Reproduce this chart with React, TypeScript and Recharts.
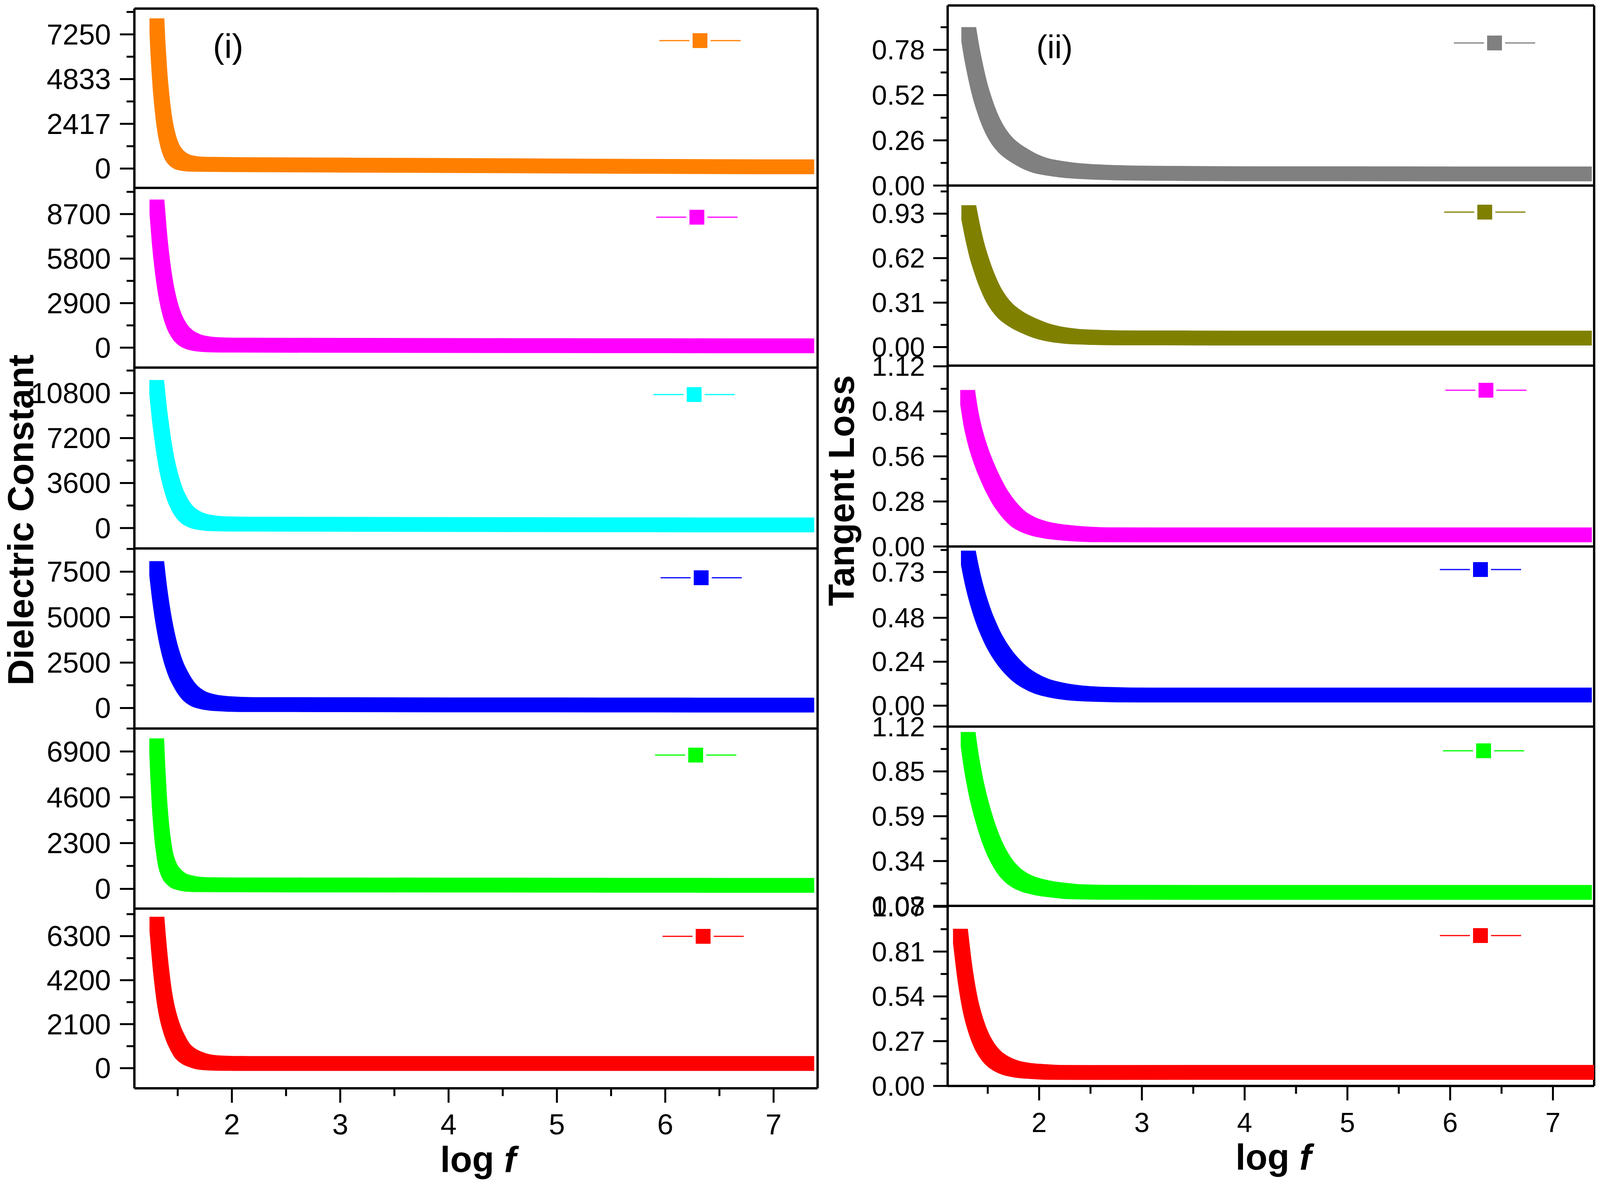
import { LineChart, Line, XAxis, YAxis, ReferenceLine, Legend } from "recharts";

// end of every curve, where the band is flat
const tailLogF = [3, 4, 5, 6, 7, 7.31];

// (i) dielectric constant
const orangeLogF = [1.308, 1.316, 1.327, 1.337, 1.348, 1.362, 1.379, 1.4, 1.424, 1.449, 1.473, 1.501, 1.536, 1.595, 1.693, 2.086, ...tailLogF];
const orangeVals = [7734, 6689, 5627, 4742, 4004, 3203, 2424, 1770, 1243, 885, 674, 506, 379, 287, 232, 211, 190, 165, 140, 115, 95, 95];
const orangeTicks = [0, 1208.5, 2417, 3625, 4833, 6041.5, 7250, 8458];
const orangeLabels = ["0", "", "2417", "", "4833", "", "7250", ""];

const magentaLogF = [1.308, 1.33, 1.352, 1.375, 1.397, 1.43, 1.468, 1.519, 1.575, 1.641, 1.73, 1.864, 2.086, ...tailLogF];
const magentaVals = [9188, 7249, 5724, 4483, 3554, 2517, 1713, 1045, 638, 392, 248, 180, 163, 150, 140, 130, 125, 120, 120];
const magentaTicks = [0, 1450, 2900, 4350, 5800, 7250, 8700, 10150];
const magentaLabels = ["0", "", "2900", "", "5800", "", "8700", ""];

const cyanLogF = [1.306, 1.335, 1.356, 1.378, 1.403, 1.428, 1.455, 1.486, 1.517, 1.558, 1.61, 1.682, 1.786, 1.91, 2.096, ...tailLogF];
const cyanVals = [11282, 8851, 7460, 6161, 4955, 4027, 3192, 2449, 1893, 1336, 909, 594, 408, 334, 315, 300, 280, 265, 255, 250, 250];
const cyanTicks = [0, 1800, 3600, 5400, 7200, 9000, 10800, 12600];
const cyanLabels = ["0", "", "3600", "", "7200", "", "10800", ""];

const blueLogF = [1.306, 1.335, 1.356, 1.378, 1.403, 1.428, 1.455, 1.486, 1.521, 1.558, 1.61, 1.682, 1.786, 1.91, 2.138, ...tailLogF];
const blueVals = [7691, 6200, 5320, 4533, 3780, 3160, 2606, 2095, 1660, 1270, 860, 535, 335, 242, 191, 185, 175, 170, 165, 160, 160];
const blueTicks = [0, 1250, 2500, 3750, 5000, 6250, 7500, 8750];
const blueLabels = ["0", "", "2500", "", "5000", "", "7500", ""];

const greenLogF = [1.306, 1.316, 1.329, 1.341, 1.354, 1.369, 1.388, 1.411, 1.435, 1.466, 1.505, 1.559, 1.637, 1.731, 1.886, ...tailLogF];
const greenVals = [7202, 5903, 4553, 3610, 2792, 2127, 1480, 1060, 790, 590, 420, 313, 235, 209, 202, 195, 190, 185, 180, 175, 175];
const greenTicks = [0, 1150, 2300, 3450, 4600, 5750, 6900, 8050];
const greenLabels = ["0", "", "2300", "", "4600", "", "6900", ""];

const redLogF = [1.308, 1.321, 1.335, 1.352, 1.374, 1.397, 1.426, 1.459, 1.497, 1.541, 1.597, 1.664, 1.753, 1.864, 2.042, ...tailLogF];
const redVals = [6890, 6050, 5240, 4400, 3493, 2798, 2189, 1668, 1234, 843, 582, 417, 287, 243, 226, 225, 225, 225, 225, 225, 225];
const redTicks = [0, 1050, 2100, 3150, 4200, 5250, 6300, 7350];
const redLabels = ["0", "", "2100", "", "4200", "", "6300", ""];

// (ii) tangent loss
const lossTail = [4, 5, 6, 7, 7.31];

const grayLogF = [1.315, 1.346, 1.369, 1.397, 1.428, 1.463, 1.498, 1.545, 1.604, 1.674, 1.744, 1.815, 1.909, 2.014, 2.143, 2.307, 2.542, 2.893, 3.315, ...lossTail];
const grayVals = [0.87, 0.759, 0.691, 0.614, 0.54, 0.472, 0.412, 0.346, 0.284, 0.232, 0.197, 0.17, 0.139, 0.115, 0.1, 0.087, 0.078, 0.072, 0.07, 0.068, 0.068, 0.067, 0.067, 0.067];
const grayTicks = [0, 0.13, 0.26, 0.39, 0.52, 0.65, 0.78, 0.91];
const grayLabels = ["0.00", "", "0.26", "", "0.52", "", "0.78", ""];

const oliveVals = [0.94, 0.826, 0.751, 0.669, 0.595, 0.52, 0.455, 0.38, 0.31, 0.25, 0.21, 0.178, 0.146, 0.116, 0.092, 0.076, 0.068, 0.064, 0.064, 0.063, 0.063, 0.063, 0.063, 0.063];
const oliveTicks = [0, 0.155, 0.31, 0.465, 0.62, 0.775, 0.93, 1.085];
const oliveLabels = ["0.00", "", "0.31", "", "0.62", "", "0.93", ""];

const pinkLogF = [1.304, 1.337, 1.368, 1.398, 1.431, 1.464, 1.496, 1.533, 1.573, 1.616, 1.671, 1.725, 1.802, 1.889, 1.998, 2.14, 2.314, 2.597, 3.034, ...lossTail];
const pinkVals = [0.929, 0.795, 0.705, 0.635, 0.57, 0.513, 0.464, 0.411, 0.36, 0.31, 0.259, 0.216, 0.169, 0.137, 0.112, 0.094, 0.082, 0.073, 0.072, 0.072, 0.072, 0.072, 0.072, 0.072];
const pinkTicks = [0, 0.14, 0.28, 0.42, 0.56, 0.7, 0.84, 0.98, 1.12];
const pinkLabels = ["0.00", "", "0.28", "", "0.56", "", "0.84", "", "1.12"];

const navyLogF = [1.311, 1.344, 1.372, 1.398, 1.431, 1.47, 1.507, 1.551, 1.605, 1.671, 1.736, 1.812, 1.911, 2.02, 2.161, 2.314, 2.597, 3.034, ...lossTail];
const navyVals = [0.808, 0.715, 0.648, 0.594, 0.533, 0.47, 0.42, 0.366, 0.312, 0.258, 0.215, 0.174, 0.136, 0.107, 0.086, 0.072, 0.062, 0.058, 0.058, 0.058, 0.058, 0.058, 0.058];
const navyTicks = [0, 0.12, 0.24, 0.36, 0.48, 0.605, 0.73, 0.85];
const navyLabels = ["0.00", "", "0.24", "", "0.48", "", "0.73", ""];

const limeLogF = [1.309, 1.343, 1.365, 1.389, 1.414, 1.439, 1.472, 1.513, 1.545, 1.586, 1.627, 1.677, 1.734, 1.808, 1.89, 1.989, 2.071, 2.202, 2.35, 2.661, ...lossTail];
const limeVals = [1.048, 0.905, 0.832, 0.76, 0.695, 0.638, 0.57, 0.495, 0.445, 0.39, 0.345, 0.3, 0.263, 0.23, 0.207, 0.19, 0.18, 0.17, 0.162, 0.159, 0.158, 0.158, 0.158, 0.158, 0.158];
const limeTicks = [0.08, 0.21, 0.34, 0.47, 0.6, 0.73, 0.86, 0.99, 1.12];
const limeLabels = ["0.08", "", "0.34", "", "0.59", "", "0.85", "", "1.12"];

const scarletLogF = [1.234, 1.262, 1.286, 1.309, 1.333, 1.356, 1.391, 1.438, 1.485, 1.555, 1.637, 1.731, 1.836, 1.977, 2.141, 2.445, 4, 5, 6, 7, 7.34];
const scarletVals = [0.905, 0.755, 0.645, 0.557, 0.48, 0.422, 0.35, 0.275, 0.222, 0.168, 0.132, 0.108, 0.095, 0.087, 0.082, 0.081, 0.082, 0.082, 0.082, 0.082, 0.082];
const scarletTicks = [0, 0.135, 0.27, 0.405, 0.54, 0.675, 0.81, 0.945, 1.08];
const scarletLabels = ["0.00", "", "0.27", "", "0.54", "", "0.81", "", "1.07"];

const xTicks = [1.5, 2, 2.5, 3, 3.5, 4, 4.5, 5, 5.5, 6, 6.5, 7];

const FONT = '"Liberation Sans", Arial, sans-serif';
const SQUARE = 38;
const PAD_TOP = 60;
const PAD_LEFT = 300;
const PAD_RIGHT = 20;
const PAD_BOTTOM = 60;
const BOTTOM_AXIS = 180;
const FRAME = 6;
// the photograph stops at 4096px across, so horizontal positions are fitted to that
const SX = 4096 / 4233;
const sx = (v: number) => Math.round(v * SX);

const zip = (xs: number[], ys: number[]) => xs.map((x, i) => ({ x, y: ys[i] }));

const leftSide = { axisX: sx(355), rightX: sx(2163), xDomain: [1.1, 7.406], fontSize: 74, labelGap: 60, minorLen: 20 };
const rightSide = { axisX: sx(2507), rightX: sx(4218), xDomain: [1.11, 7.401], fontSize: 70, labelGap: 58, minorLen: 18 };

const panels = [
  { side: leftSide, top: 22, bottom: 481, domain: [-1043, 8640], color: "#FF8000", xs: orangeLogF, ys: orangeVals, ticks: orangeTicks, labels: orangeLabels, legend: [1852, 104] },
  { side: leftSide, top: 481, bottom: 941, domain: [-1299, 10408], color: "#FF00FF", xs: magentaLogF, ys: magentaVals, ticks: magentaTicks, labels: magentaLabels, legend: [1844, 556] },
  { side: leftSide, top: 941, bottom: 1404, domain: [-1633, 12838], color: "#00FFFF", xs: cyanLogF, ys: cyanVals, ticks: cyanTicks, labels: cyanLabels, legend: [1836, 1010] },
  { side: leftSide, top: 1404, bottom: 1865, domain: [-1127, 8776], color: "#0000FF", xs: blueLogF, ys: blueVals, ticks: blueTicks, labels: blueLabels, legend: [1855, 1479] },
  { side: leftSide, top: 1865, bottom: 2326, domain: [-992, 8050], color: "#00FF00", xs: greenLogF, ys: greenVals, ticks: greenTicks, labels: greenLabels, legend: [1841, 1933] },
  { side: leftSide, top: 2326, bottom: 2786, domain: [-960, 7614], color: "#FF0000", xs: redLogF, ys: redVals, ticks: redTicks, labels: redLabels, legend: [1860, 2397], last: true },
  { side: rightSide, top: 14, bottom: 475, domain: [0, 1.035], color: "#808080", xs: grayLogF, ys: grayVals, ticks: grayTicks, labels: grayLabels, legend: [3954, 110] },
  { side: rightSide, top: 475, bottom: 936, domain: [-0.129, 1.126], color: "#808000", xs: grayLogF, ys: oliveVals, ticks: oliveTicks, labels: oliveLabels, legend: [3928, 543] },
  { side: rightSide, top: 936, bottom: 1399, domain: [0, 1.124], color: "#FF00FF", xs: pinkLogF, ys: pinkVals, ticks: pinkTicks, labels: pinkLabels, legend: [3931, 999] },
  { side: rightSide, top: 1399, bottom: 1860, domain: [-0.114, 0.869], color: "#0000FF", xs: navyLogF, ys: navyVals, ticks: navyTicks, labels: navyLabels, legend: [3917, 1458] },
  { side: rightSide, top: 1860, bottom: 2319, domain: [0.08, 1.12], color: "#00FF00", xs: limeLogF, ys: limeVals, ticks: limeTicks, labels: limeLabels, legend: [3925, 1922] },
  { side: rightSide, top: 2319, bottom: 2780, domain: [0, 1.0855], color: "#FF0000", xs: scarletLogF, ys: scarletVals, ticks: scarletTicks, labels: scarletLabels, legend: [3917, 2395], last: true },
];

function Panel({ p }: { p: (typeof panels)[number] }) {
  const { side, color } = p;
  const width = PAD_LEFT + (side.rightX - side.axisX) + PAD_RIGHT;
  const xAxisH = p.last ? BOTTOM_AXIS : PAD_BOTTOM;
  const height = PAD_TOP + (p.bottom - p.top) + xAxisH;
  const chartLeft = side.axisX - PAD_LEFT;
  const chartTop = p.top - PAD_TOP;

  const yTick = ({ x, y, payload, index }: any) => {
    const label = p.labels[p.ticks.indexOf(payload.value)] ?? p.labels[index];
    const major = label !== "";
    return (
      <g>
        <line x1={x} x2={x - (major ? 37 : side.minorLen)} y1={y} y2={y} stroke="#000" strokeWidth={5} />
        {major && (
          <text x={x - side.labelGap} y={y + side.fontSize * 0.35} textAnchor="end" fontSize={side.fontSize} fontFamily={FONT} fill="#000">
            {label}
          </text>
        )}
      </g>
    );
  };

  const xTick = ({ x, y, payload }: any) => {
    const major = Number.isInteger(payload.value);
    return (
      <g>
        <line x1={x} x2={x} y1={y} y2={y + (major ? 37 : 20)} stroke="#000" strokeWidth={5} />
        {major && (
          <text x={x} y={y + 118} textAnchor="middle" fontSize={side.fontSize} fontFamily={FONT} fill="#000">
            {payload.value}
          </text>
        )}
      </g>
    );
  };

  const legendKey = () => (
    <svg width={220} height={SQUARE} style={{ display: "block", overflow: "visible" }}>
      <line x1={6} x2={83} y1={19} y2={19} stroke={color} strokeWidth={3} />
      <rect x={91} y={0} width={SQUARE} height={SQUARE} fill={color} />
      <line x1={137} x2={214} y1={19} y2={19} stroke={color} strokeWidth={3} />
    </svg>
  );

  return (
    <div style={{ position: "absolute", left: chartLeft, top: chartTop }}>
      <LineChart
        width={width}
        height={height}
        data={zip(p.xs, p.ys)}
        margin={{ top: PAD_TOP, right: PAD_RIGHT, bottom: 0, left: 0 }}
        style={{ overflow: "visible" }}
      >
        <XAxis
          dataKey="x"
          type="number"
          domain={side.xDomain}
          ticks={p.last ? xTicks : []}
          interval={0}
          height={xAxisH}
          tickSize={0}
          tickMargin={0}
          tick={p.last ? xTick : false}
          axisLine={{ stroke: "#000", strokeWidth: FRAME }}
          allowDataOverflow
        />
        <YAxis
          type="number"
          domain={p.domain}
          ticks={p.ticks}
          interval={0}
          width={PAD_LEFT}
          tickSize={0}
          tickMargin={0}
          tick={yTick}
          axisLine={{ stroke: "#000", strokeWidth: FRAME }}
          allowDataOverflow
        />
        <ReferenceLine y={p.domain[1]} stroke="#000" strokeWidth={FRAME} ifOverflow="visible" />
        <ReferenceLine x={side.xDomain[1]} stroke="#000" strokeWidth={FRAME} ifOverflow="visible" />
        <Legend
          content={legendKey}
          layout="horizontal"
          verticalAlign="middle"
          wrapperStyle={{ position: "absolute", left: sx(p.legend[0]) - chartLeft - 110, top: p.legend[1] - chartTop - 19, width: 220, height: SQUARE, bottom: "auto" }}
        />
        <Line
          dataKey="y"
          type="monotone"
          stroke={color}
          strokeWidth={2}
          filter="url(#squareBrush)"
          isAnimationActive={false}
          dot={false}
          activeDot={false}
        />
      </LineChart>
    </div>
  );
}

export default function App() {
  return (
    <div style={{ position: "absolute", left: 0, top: 0, width: 4096, height: 3031, background: "#fff", overflow: "hidden" }}>
      {/* the original band is overlapping square symbols, so the thin line is dilated with a square kernel */}
      <svg width={0} height={0} style={{ position: "absolute" }}>
        <defs>
          <filter id="squareBrush" filterUnits="userSpaceOnUse" x={0} y={0} width={2400} height={800} colorInterpolationFilters="sRGB">
            <feMorphology operator="dilate" radius={18} />
          </filter>
        </defs>
      </svg>
      {panels.map((p, i) => (
        <Panel key={i} p={p} />
      ))}
      <svg width={4096} height={3031} style={{ position: "absolute", left: 0, top: 0, pointerEvents: "none" }} fontFamily={FONT} fill="#000">
        <text x={sx(563)} y={148} fontSize={88}>(i)</text>
        <text x={sx(2742)} y={149} fontSize={84}>(ii)</text>
        <text transform="translate(85 1331) rotate(-90)" fontSize={93} fontWeight="bold" textAnchor="middle">Dielectric Constant</text>
        <text transform={`translate(${sx(2259)} 1256) rotate(-90)`} fontSize={92} fontWeight="bold" textAnchor="middle">Tangent Loss</text>
        <text x={sx(1165)} y={3000} fontSize={92} fontWeight="bold">
          log <tspan fontStyle="italic">f</tspan>
        </text>
        <text x={sx(3269)} y={2994} fontSize={92} fontWeight="bold">
          log <tspan fontStyle="italic">f</tspan>
        </text>
      </svg>
    </div>
  );
}
